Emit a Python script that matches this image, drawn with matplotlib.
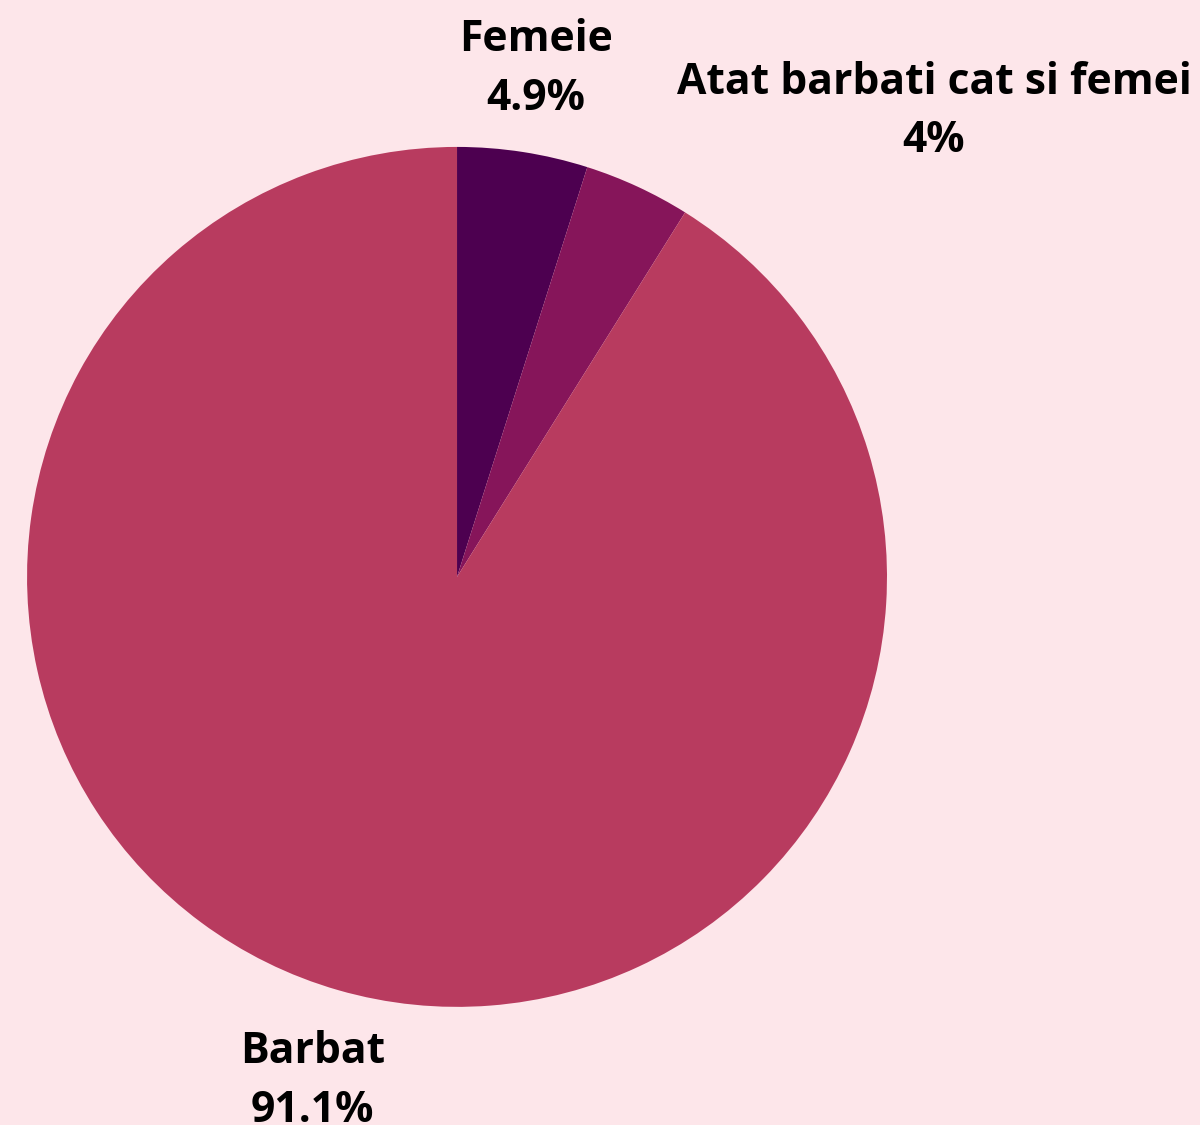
import numpy as np
import matplotlib
matplotlib.use('Agg')
import matplotlib.pyplot as plt

# data
labels = ['Femeie', 'Atat barbati cat si femei', 'Barbat']
shares = [4.9, 4.0, 91.1]
pct_text = ['4.9%', '4%', '91.1%']
colors = ['#4d0050', '#86155a', '#b83b5f']

bg = '#fde6ea'
plt.rcParams['font.family'] = ['Open Sans', 'DejaVu Sans']

fig = plt.figure(figsize=(12, 11.25), dpi=100, facecolor=bg)
ax = fig.add_axes([0.0225, 0.105, 0.7167, 0.7644])
ax.set_facecolor(bg)

wedges, _ = ax.pie(shares, colors=colors, startangle=90, counterclock=False,
                   radius=1, wedgeprops=dict(linewidth=0))
ax.set_xlim(-1, 1)
ax.set_ylim(-1, 1)
ax.set_aspect('equal')
ax.axis('off')

# label positions: along mid angle, except the small middle slice which is pushed aside
label_dist = [1.195, 1.55, 1.22]
for i, w in enumerate(wedges):
    mid = np.deg2rad((w.theta1 + w.theta2) / 2)
    ang = np.deg2rad(44.3) if i == 1 else mid
    x, y = label_dist[i] * np.cos(ang), label_dist[i] * np.sin(ang)
    ax.text(x, y, labels[i] + '\n' + pct_text[i], ha='center', va='center',
            fontsize=30.7, fontweight='bold', color='black', linespacing=1.47,
            clip_on=False)

fig.savefig('out.png', facecolor=bg)
